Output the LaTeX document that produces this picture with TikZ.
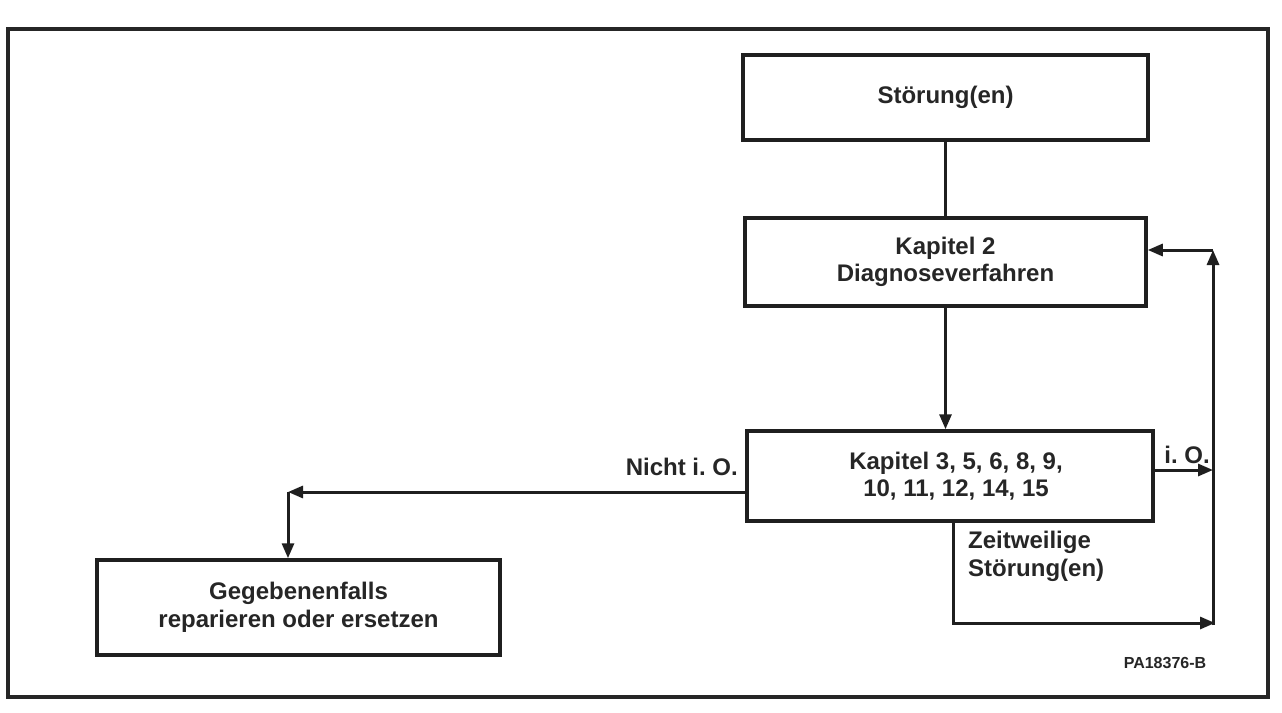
\documentclass[tikz,border=0pt]{standalone}
\usepackage{fontspec}
\setmainfont{Liberation Sans}
\usetikzlibrary{arrows.meta}
\frenchspacing
\begin{document}
\begin{tikzpicture}[x=1pt,y=-1pt,
  box/.style={draw=black!88,line width=3.5pt,minimum width=#1,align=center,inner sep=0pt},
  txt/.style={font=\fontsize{24}{27.5}\selectfont\bfseries,text=black!85},
  lbl/.style={font=\fontsize{24}{27.5}\selectfont\bfseries,text=black!85,inner sep=0pt},
  conn/.style={draw=black!88,line width=3pt},
  arr/.style={conn,-{Triangle[length=15pt,width=12pt]}}]
\useasboundingbox (0,0) rectangle (1282,712);
\fill[white] (0,0) rectangle (1282,712);
% frame
\draw[draw=black!85,line width=3.5pt] (8,29) rectangle (1268,697);
% boxes
\node[box=405pt,minimum height=85pt,txt] (stoer) at (945.5,97.5) {Störung(en)};
\node[box=401pt,minimum height=88pt,txt] (kap2) at (945.5,262) {Kapitel 2\\Diagnoseverfahren};
\node[box=406pt,minimum height=90pt,txt] (kap3) at (950,476) {\hspace*{12pt}Kapitel 3, 5, 6, 8, 9,\\\hspace*{12pt}10, 11, 12, 14, 15};
\node[box=403pt,minimum height=95pt,txt] (rep) at (298.5,607.5) {Gegebenenfalls\\reparieren oder ersetzen};
% coordinates
\coordinate (c1) at (288,492);
\coordinate (c2) at (1213,470);
\coordinate (c3) at (953,623);
\coordinate (c4) at (1215,623);
\coordinate (c5) at (1213,250);
% connectors
\draw[conn] (stoer.south) -- (kap2.north);
\draw[arr] (kap2.south) -- (kap2.south |- kap3.north);
\draw[arr] (kap3.west |- c1) -- (c1);
\draw[arr] (c1) -- (c1 |- rep.north);
\draw[arr] (kap3.east |- c2) -- (c2);
\draw[arr] (c3 |- kap3.south) -- (c3) -- (c4);
\draw[arr] (1213,625) -- (c5);
\draw[arr] (c5) -- (kap2.east |- c5);
% labels
\node[lbl,anchor=east] (nio) at (738,467) {Nicht i. O.};
\node[lbl] (io) at (1187,455) {i. O.};
\node[lbl,anchor=north west,align=left] (zeit) at (968,531) {Zeitweilige\\Störung(en)};
\node[font=\fontsize{16}{18}\selectfont\bfseries,text=black!85,inner sep=0pt] (pa) at (1165,663) {PA18376-B};
\end{tikzpicture}
\end{document}
